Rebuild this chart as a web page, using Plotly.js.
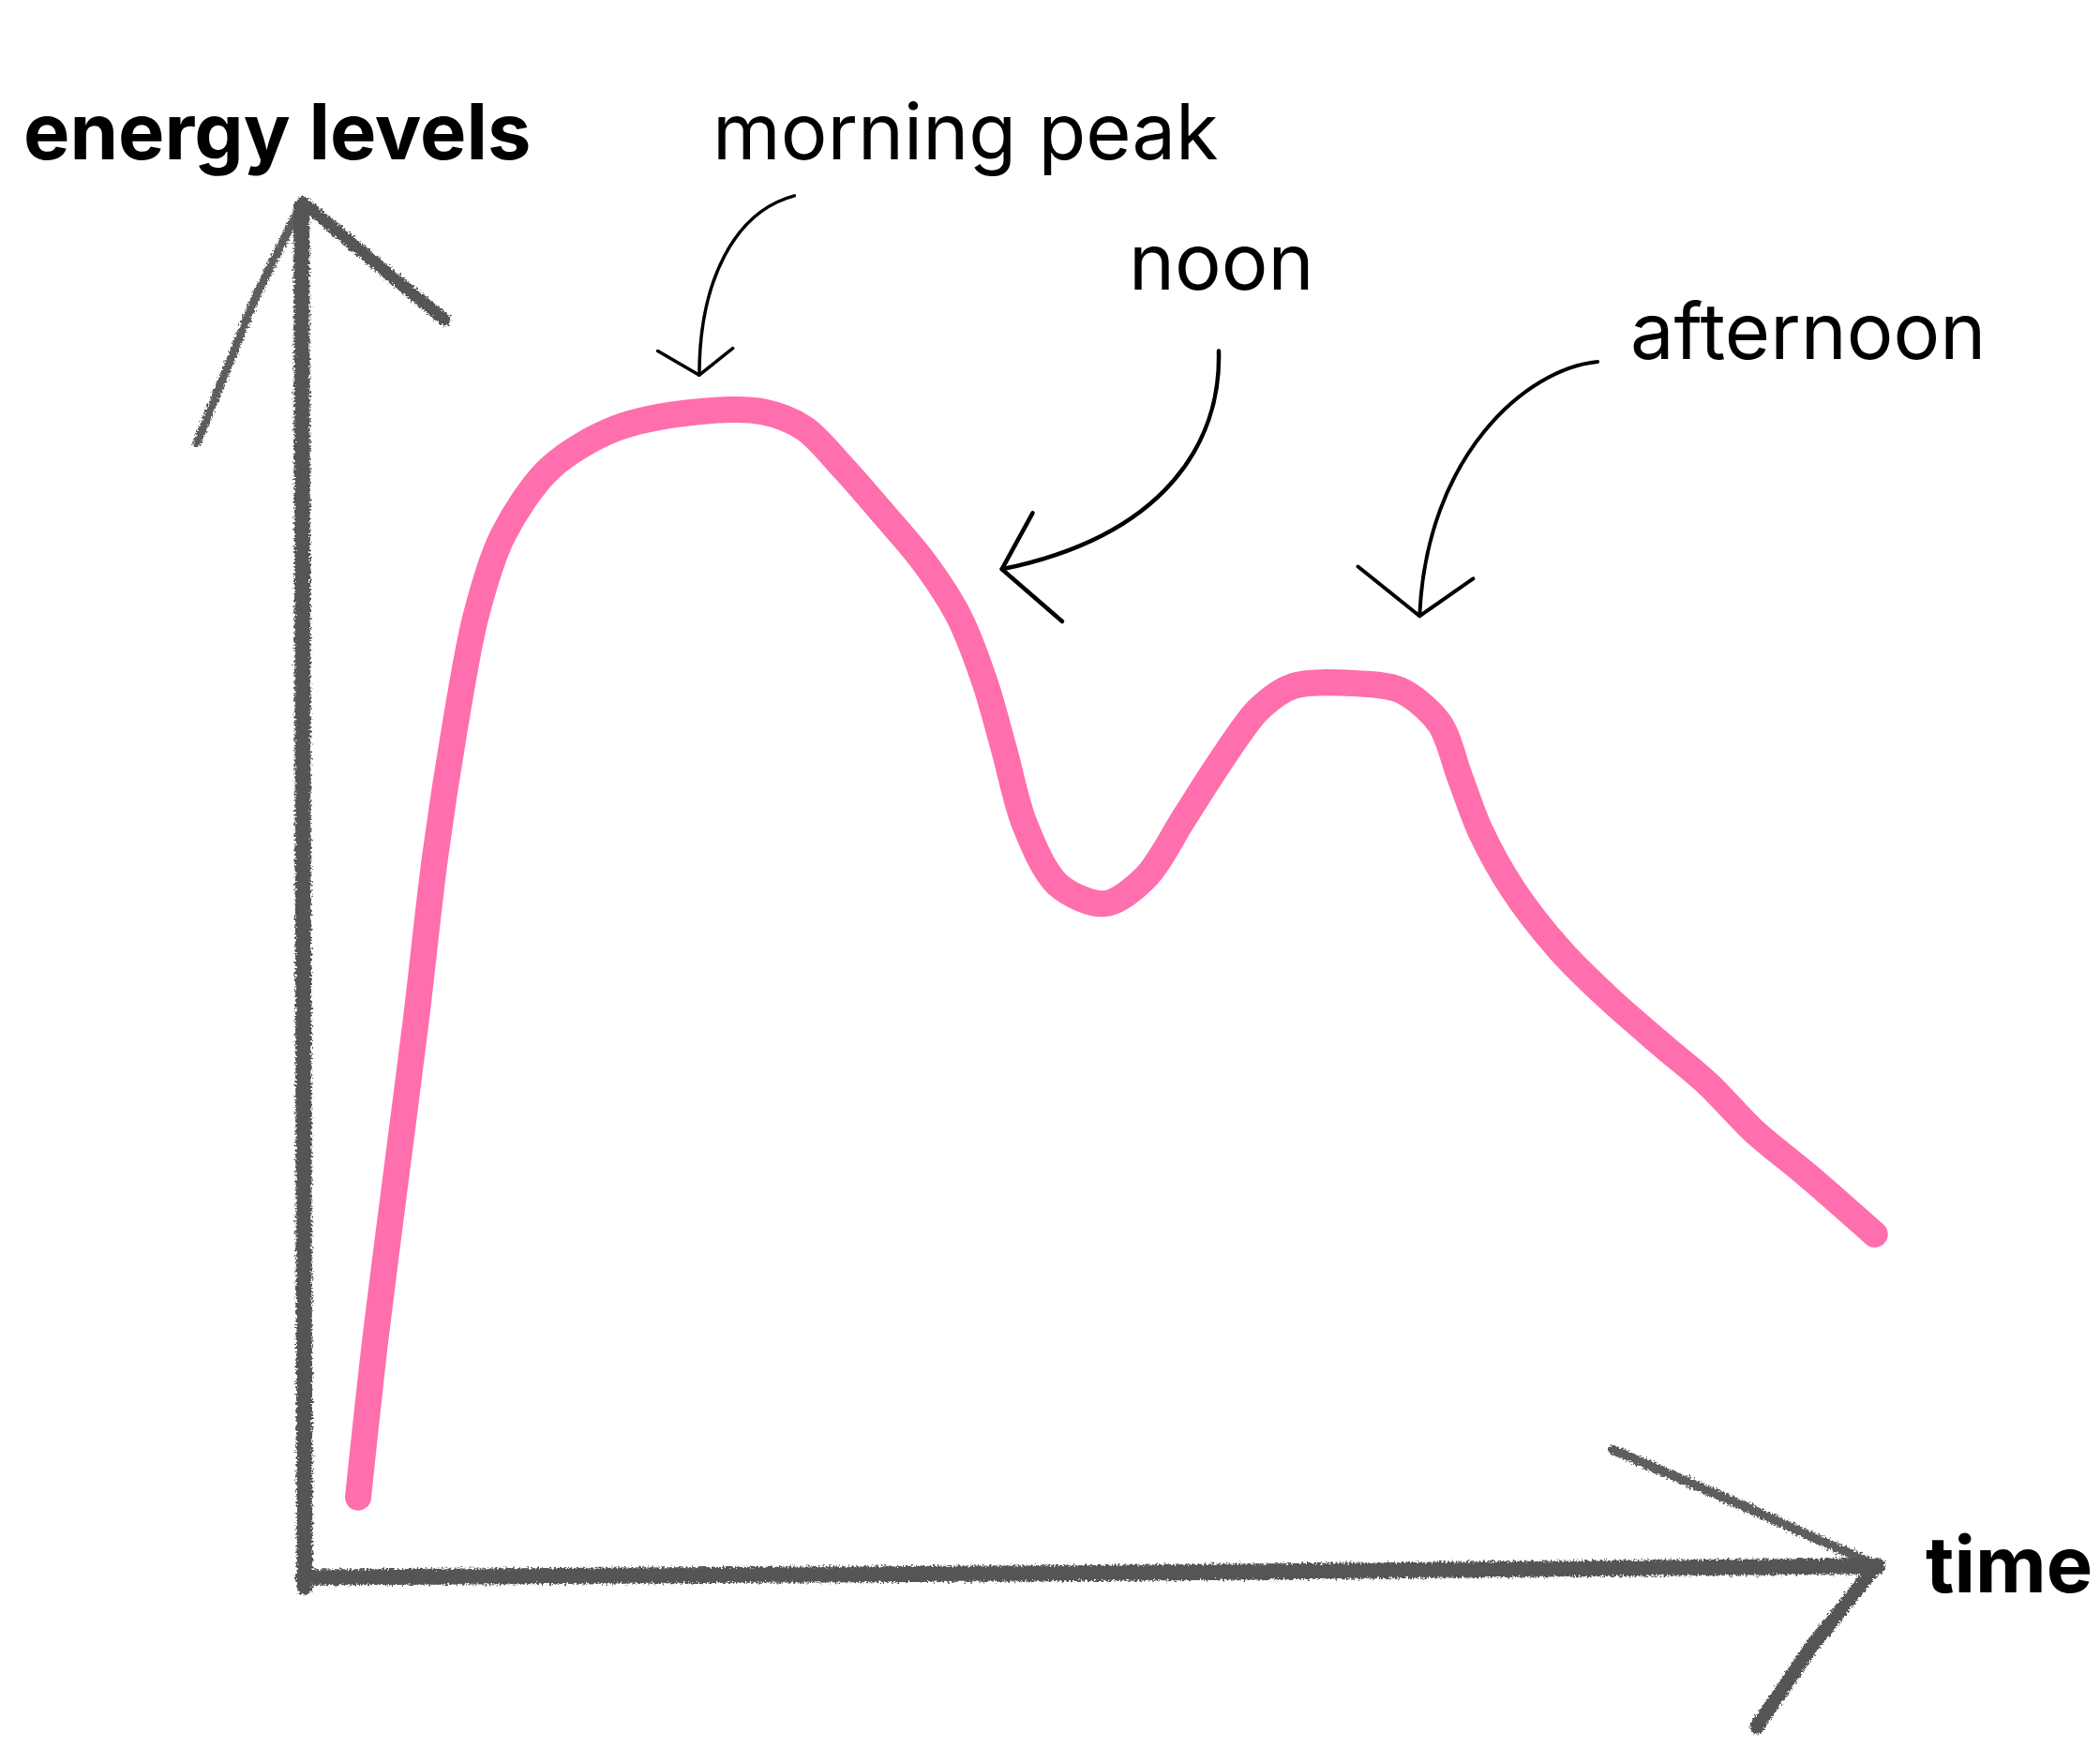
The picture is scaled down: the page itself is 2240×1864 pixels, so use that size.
<!DOCTYPE html>
<html>
<head>
<meta charset="utf-8">
<script src="https://cdn.plot.ly/plotly-3.0.1.min.js"></script>
<style>
  html, body { margin: 0; padding: 0; background: #ffffff; }
  #chart { width: 2240px; height: 1864px; }
  .js-line { stroke-linecap: round; stroke-linejoin: round; }
  .shapelayer path { stroke-linecap: round; stroke-linejoin: round; }
</style>
</head>
<body>
<div id="chart"></div>
<script>
// ---- data (time in arbitrary units 0-100, energy level 0-100) ----
const timeVals = [3.5, 4.6, 5.9, 7.2, 8.4, 9.7, 11.0, 12.7, 15.7, 19.9, 25.0, 29.3, 31.9, 34.4, 37.0, 39.5, 41.7, 43.4, 44.6, 45.9, 48.0, 51.0, 53.6, 56.1, 58.3, 60.8, 63.0, 66.8, 69.8, 72.3, 73.6, 74.9, 77.0, 80.0, 83.0, 86.4, 89.4, 92.3, 95.7, 100.0];
const energyVals = [5.8, 17.3, 29.0, 40.6, 52.3, 62.0, 69.8, 75.6, 80.5, 83.4, 84.6, 84.6, 83.4, 80.5, 77.1, 73.7, 69.8, 64.9, 60.1, 54.7, 50.3, 48.9, 50.8, 55.2, 59.1, 63.0, 64.7, 64.9, 64.4, 62.0, 58.1, 54.2, 49.9, 45.5, 42.1, 38.7, 35.8, 32.4, 29.2, 24.9];

const axisTitleY = "energy levels";
const axisTitleX = "time";
const phaseLabels = ["morning peak", "noon", "afternoon"];

// ---- styles ----
const pink = "#FF6EAD";
const chalk = "#555555";

// axis range with a little padding so the thick stroke is not clipped
const xr = [-3, 103];
const yr = [-3, 103];
const plotW = 1677 * (xr[1] - xr[0]) / 100;
const plotH = 1470 * (yr[1] - yr[0]) / 100;
const mL = 323 - 1677 * (0 - xr[0]) / 100;
const mB = 181 - 1470 * (0 - yr[0]) / 100;
const mR = 2240 - mL - plotW;
const mT = 1864 - mB - plotH;

// frame units (0..1 spanning the axes' origin to their tips) -> paper units
function fx(u) { return (u * 100 - xr[0]) / (xr[1] - xr[0]); }
function fy(v) { return (v * 100 - yr[0]) / (yr[1] - yr[0]); }
function pathFrom(cmds) {
  return cmds.map(function (c) {
    let s = c[0];
    for (let i = 1; i < c.length; i += 2) s += " " + fx(c[i]).toFixed(5) + " " + fy(c[i + 1]).toFixed(5);
    return s;
  }).join(" ");
}

const trace = {
  x: timeVals,
  y: energyVals,
  type: "scatter",
  mode: "lines",
  line: { color: pink, width: 28, shape: "spline", smoothing: 0.9 },
  hoverinfo: "skip"
};

function chalkPath(cmds, w, op) {
  return { type: "path", xref: "paper", yref: "paper", path: pathFrom(cmds),
           line: { color: chalk, width: w }, opacity: op === undefined ? 1 : op, layer: "above" };
}
function inkPath(cmds, w) {
  return { type: "path", xref: "paper", yref: "paper", path: pathFrom(cmds),
           line: { color: "#000000", width: w }, layer: "above" };
}

const shapes = [
  // y axis + arrowhead
  chalkPath([["M", 0.001, -0.007], ["L", 0.0, 0.50], ["L", -0.001, 0.995]], 17),
  chalkPath([["M", -0.0005, 0.998], ["L", -0.03, 0.93], ["L", -0.0674, 0.8238]], 9, 0.95),
  chalkPath([["M", 0.0, 0.998], ["L", 0.045, 0.955], ["L", 0.090, 0.9129]], 13),
  // x axis + arrowhead
  chalkPath([["M", 0, 0], ["L", 0.5, 0.003], ["L", 1.0018, 0.0082]], 17),
  chalkPath([["M", 1.0, 0.009], ["L", 0.92, 0.05], ["L", 0.8336, 0.0925]], 10, 0.95),
  chalkPath([["M", 1.0, 0.007], ["L", 0.96, -0.05], ["L", 0.9249, -0.1088]], 15),
  // annotation arrows: morning peak
  inkPath([["M", 0.3126, 1.0029], ["C", 0.2743, 0.9913, 0.2521, 0.9407, 0.2521, 0.8727]], 3.5),
  inkPath([["M", 0.2257, 0.8902], ["L", 0.2521, 0.8727], ["L", 0.2734, 0.8921]], 3.5),
  // noon
  inkPath([["M", 0.5826, 0.8902], ["C", 0.5843, 0.8241, 0.5486, 0.7561, 0.4446, 0.7318]], 4.5),
  inkPath([["M", 0.4642, 0.7726], ["L", 0.4446, 0.7318], ["L", 0.4830, 0.6939]], 4.5),
  // afternoon
  inkPath([["M", 0.8237, 0.8824], ["C", 0.7785, 0.8776, 0.7147, 0.8144, 0.7104, 0.6978]], 4),
  inkPath([["M", 0.6712, 0.7337], ["L", 0.7104, 0.6978], ["L", 0.7445, 0.7250]], 4)
];

const font = "Inter, 'Noto Sans', sans-serif";
function label(text, u, v) {
  return { text: text, x: fx(u), y: fy(v), xref: "paper", yref: "paper",
           showarrow: false, xanchor: "center", yanchor: "middle",
           font: { family: font, size: 83, color: "#000" } };
}
const annotations = [
  label("<b>" + axisTitleY + "</b>", -0.0162, 1.0496),
  label(phaseLabels[0], 0.4216, 1.0496),
  label(phaseLabels[1], 0.5843, 0.9553),
  label(phaseLabels[2], 0.9574, 0.9048),
  label("<b>" + axisTitleX + "</b>", 1.0852, 0.0097)
];

const layout = {
  width: 2240, height: 1864,
  margin: { l: mL, r: mR, t: mT, b: mB, pad: 0 },
  paper_bgcolor: "#ffffff", plot_bgcolor: "#ffffff",
  showlegend: false,
  xaxis: { range: xr, visible: false, fixedrange: true },
  yaxis: { range: yr, visible: false, fixedrange: true },
  shapes: shapes,
  annotations: annotations
};

Plotly.newPlot("chart", [trace], layout, { staticPlot: true, displayModeBar: false }).then(function (gd) {
  const svg = gd.querySelector("svg.main-svg");
  const ns = "http://www.w3.org/2000/svg";
  let defs = svg.querySelector("defs");
  if (!defs) { defs = document.createElementNS(ns, "defs"); svg.insertBefore(defs, svg.firstChild); }
  const f = document.createElementNS(ns, "filter");
  f.setAttribute("id", "chalkfx");
  f.setAttribute("filterUnits", "userSpaceOnUse");
  f.setAttribute("x", "-500"); f.setAttribute("y", "-500");
  f.setAttribute("width", "3500"); f.setAttribute("height", "3000");
  f.innerHTML = '<feTurbulence type="fractalNoise" baseFrequency="0.45" numOctaves="2" seed="7" result="n"/>' +
                '<feDisplacementMap in="SourceGraphic" in2="n" scale="8" xChannelSelector="R" yChannelSelector="G"/>';
  defs.appendChild(f);
  gd.querySelectorAll(".shapelayer path").forEach(function (p) {
    const idx = +p.getAttribute("data-index");
    if (idx < 6) p.setAttribute("filter", "url(#chalkfx)");
  });
});
</script>
</body>
</html>
